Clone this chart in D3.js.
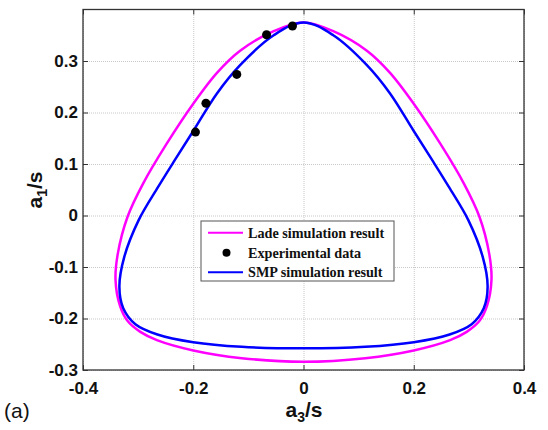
<!DOCTYPE html>
<html>
<head>
<meta charset="utf-8">
<script src="https://cdn.jsdelivr.net/npm/d3@7/dist/d3.min.js"></script>
<style>
  body { margin: 0; background: #fff; }
  svg { display: block; }
</style>
</head>
<body>
<svg id="chart" width="548" height="430"></svg>
<script>
// values, (a3/s, a1/s), clockwise from the apex
var ladeCurve = [
  [0, 0.375], [0.054, 0.358], [0.115, 0.320], [0.157, 0.277], [0.200, 0.217],
  [0.249, 0.138], [0.291, 0.062], [0.319, -0.002], [0.337, -0.075], [0.341, -0.125],
  [0.333, -0.175], [0.319, -0.205], [0.296, -0.226], [0.266, -0.242], [0.200, -0.262],
  [0.112, -0.277], [0, -0.284],
  [-0.112, -0.277], [-0.200, -0.262], [-0.266, -0.242], [-0.296, -0.226], [-0.319, -0.205],
  [-0.333, -0.175], [-0.341, -0.125], [-0.337, -0.075], [-0.319, -0.002], [-0.291, 0.062],
  [-0.249, 0.138], [-0.200, 0.217], [-0.157, 0.277], [-0.115, 0.320], [-0.054, 0.358]
];
var smpCurve = [
  [0, 0.375], [0.054, 0.350], [0.115, 0.292], [0.157, 0.237], [0.200, 0.164],
  [0.235, 0.105], [0.264, 0.055], [0.299, -0.009], [0.325, -0.080], [0.334, -0.138],
  [0.327, -0.180], [0.305, -0.211], [0.265, -0.231], [0.200, -0.246], [0.112, -0.255],
  [0, -0.258],
  [-0.112, -0.255], [-0.200, -0.246], [-0.265, -0.231], [-0.305, -0.211], [-0.327, -0.180],
  [-0.334, -0.138], [-0.325, -0.080], [-0.299, -0.009], [-0.264, 0.055], [-0.235, 0.105],
  [-0.200, 0.164], [-0.157, 0.237], [-0.115, 0.292], [-0.054, 0.350]
];
var expX = [-0.196, -0.177, -0.121, -0.067, -0.020];
var expY = [0.162, 0.218, 0.274, 0.351, 0.368];
var xTicks = [-0.4, -0.2, 0, 0.2, 0.4];
var yTicks = [-0.3, -0.2, -0.1, 0, 0.1, 0.2, 0.3];
var legendNames = ["Lade simulation result", "Experimental data", "SMP simulation result"];

var svg = d3.select("#chart");
var plotL = 83, plotR = 524, plotT = 9.5, plotB = 370;

var x = d3.scaleLinear().domain([-0.4, 0.4]).range([plotL, plotR]);
var y = d3.scaleLinear().domain([-0.3, 0.4]).range([plotB, plotT]);

function fmt(d) { return d === 0 ? "0" : d.toFixed(1); }

// grid
svg.append("g")
    .attr("transform", "translate(0," + plotB + ")")
    .call(d3.axisBottom(x).tickValues(xTicks).tickSize(-(plotB - plotT)).tickFormat(""))
    .call(function(g){ g.select(".domain").remove(); })
    .selectAll("line").attr("stroke", "#c8c8c8").attr("stroke-dasharray", "1,1");
svg.append("g")
    .attr("transform", "translate(" + plotL + ",0)")
    .call(d3.axisLeft(y).tickValues(yTicks).tickSize(-(plotR - plotL)).tickFormat(""))
    .call(function(g){ g.select(".domain").remove(); })
    .selectAll("line").attr("stroke", "#c8c8c8").attr("stroke-dasharray", "1,1");

// axes, ticks pointing in
var axFont = "bold 17px 'Liberation Sans', Arial, Helvetica, sans-serif";
var gb = svg.append("g").attr("transform", "translate(0," + plotB + ")")
    .call(d3.axisBottom(x).tickValues(xTicks).tickSizeInner(-5).tickSizeOuter(0).tickPadding(12).tickFormat(fmt));
var gt = svg.append("g").attr("transform", "translate(0," + plotT + ")")
    .call(d3.axisTop(x).tickValues(xTicks).tickSizeInner(-5).tickSizeOuter(0).tickFormat(""));
var gl = svg.append("g").attr("transform", "translate(" + plotL + ",0)")
    .call(d3.axisLeft(y).tickValues(yTicks).tickSizeInner(-5).tickSizeOuter(0).tickPadding(5).tickFormat(fmt));
var gr = svg.append("g").attr("transform", "translate(" + plotR + ",0)")
    .call(d3.axisRight(y).tickValues(yTicks).tickSizeInner(-5).tickSizeOuter(0).tickFormat(""));
[gb, gt, gl, gr].forEach(function(g){
    g.selectAll(".domain").remove();
    g.selectAll("line").attr("stroke", "#333");
    g.selectAll("text").style("font", axFont).attr("fill", "#111");
});

svg.append("rect")
    .attr("x", plotL).attr("y", plotT)
    .attr("width", plotR - plotL).attr("height", plotB - plotT)
    .attr("fill", "none").attr("stroke", "#333").attr("stroke-width", 1.3);

// curves
var line = d3.line()
    .x(function(d){ return x(d[0]); })
    .y(function(d){ return y(d[1]); })
    .curve(d3.curveCatmullRomClosed.alpha(0.5));

svg.append("path").datum(ladeCurve).attr("d", line)
    .attr("fill", "none").attr("stroke", "#ff00ff").attr("stroke-width", 2.5);
svg.append("path").datum(smpCurve).attr("d", line)
    .attr("fill", "none").attr("stroke", "#0000ff").attr("stroke-width", 2.5);

svg.append("g").selectAll("circle").data(expX).join("circle")
    .attr("cx", function(d){ return x(d); })
    .attr("cy", function(d, i){ return y(expY[i]); })
    .attr("r", 4.5).attr("fill", "#000");

// legend
var lg = svg.append("g");
lg.append("rect").attr("x", 201).attr("y", 221).attr("width", 193).attr("height", 60)
    .attr("fill", "#fff").attr("stroke", "#555").attr("stroke-width", 1);
var rows = [232.7, 252.7, 272.3];
var colors = ["#ff00ff", null, "#0000ff"];
legendNames.forEach(function(name, i){
    if (colors[i]) {
        lg.append("line").attr("x1", 208).attr("x2", 243)
            .attr("y1", rows[i]).attr("y2", rows[i])
            .attr("stroke", colors[i]).attr("stroke-width", 2);
    } else {
        lg.append("circle").attr("cx", 226.5).attr("cy", rows[i]).attr("r", 4).attr("fill", "#000");
    }
    lg.append("text").attr("x", 248).attr("y", rows[i] + 5)
        .style("font", "bold 14.2px 'Liberation Serif', 'Times New Roman', serif")
        .attr("fill", "#111")
        .text(name);
});

// axis labels
var labFont = "bold 21px 'Liberation Sans', Arial, Helvetica, sans-serif";
var xl = svg.append("text").attr("x", 304).attr("y", 417).attr("text-anchor", "middle")
    .style("font", labFont).attr("fill", "#111");
xl.append("tspan").text("a");
xl.append("tspan").attr("dy", 5).style("font-size", "14px").text("3");
xl.append("tspan").attr("dy", -5).text("/s");

var yl = svg.append("text").attr("transform", "translate(42,190) rotate(-90)")
    .attr("text-anchor", "middle").style("font", labFont).attr("fill", "#111");
yl.append("tspan").text("a");
yl.append("tspan").attr("dy", 5).style("font-size", "14px").text("1");
yl.append("tspan").attr("dy", -5).text("/s");

svg.append("text").attr("x", 4).attr("y", 418)
    .style("font", "21px 'Liberation Sans', Arial, Helvetica, sans-serif")
    .attr("fill", "#111").text("(a)");
</script>
</body>
</html>
